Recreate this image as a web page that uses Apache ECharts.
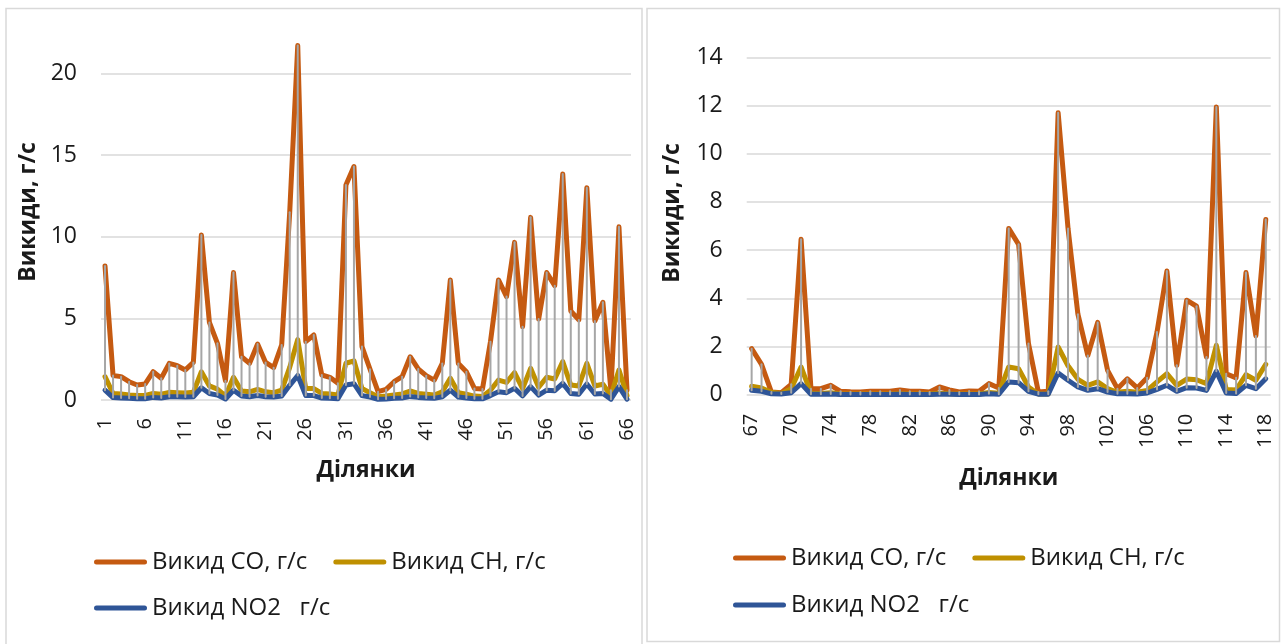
<!DOCTYPE html>
<html>
<head>
<meta charset="utf-8">
<title>Викиди по ділянках</title>
<script src="https://cdn.jsdelivr.net/npm/echarts@6/dist/echarts.min.js"></script>
<style>
  html, body { margin: 0; padding: 0; background: #ffffff; }
  #chart { width: 1281px; height: 644px; }
</style>
</head>
<body>
<div id="chart"></div>
<script>
// Ділянки 1–66 (ліва діаграма)
const sectionsA = ['1','2','3','4','5','6','7','8','9','10','11','12','13','14','15','16','17','18','19','20',
  '21','22','23','24','25','26','27','28','29','30','31','32','33','34','35','36','37','38','39','40',
  '41','42','43','44','45','46','47','48','49','50','51','52','53','54','55','56','57','58','59','60',
  '61','62','63','64','65','66'];

// Ділянки 67–118 (права діаграма)
const sectionsB = ['67','68','69','69а','70','71','72','73','74','75','76','77','78','79','80','81','82','83',
  '84','85','86','87','88','89','90','91','92','93','94','95','96','97','98','99','100','101','102','103',
  '104','105','106','107','108','109','110','111','112','113','114','115','116','117','118'];

// Викид CO, CH, NO2 (г/с), ділянки 1–66
const coA = [8.2, 1.5, 1.43, 1.12, 0.92, 0.98, 1.73, 1.33, 2.24, 2.1, 1.84, 2.3, 10.1, 4.75, 3.47, 1.18,
  7.8, 2.65, 2.24, 3.43, 2.3, 1.98, 3.37, 11.5, 21.7, 3.57, 3.98, 1.53, 1.39, 1.02, 13.16, 14.29, 3.27,
  1.88, 0.51, 0.65, 1.12, 1.43, 2.65, 1.9, 1.49, 1.22, 2.24, 7.35, 2.24, 1.73, 0.71, 0.67, 3.57, 7.35,
  6.33, 9.65, 4.49, 11.18, 4.96, 7.8, 7.0, 13.84, 5.45, 4.9, 13.0, 4.84, 5.98, 0.6, 10.6, 0.6];
const chA = [1.43, 0.4, 0.37, 0.3, 0.27, 0.28, 0.4, 0.35, 0.47, 0.45, 0.43, 0.47, 1.73, 0.86, 0.67, 0.25,
  1.39, 0.55, 0.5, 0.65, 0.5, 0.45, 0.6, 2.0, 3.7, 0.7, 0.7, 0.4, 0.37, 0.3, 2.25, 2.4, 0.7,
  0.45, 0.2, 0.24, 0.3, 0.37, 0.55, 0.4, 0.35, 0.3, 0.5, 1.33, 0.45, 0.35, 0.24, 0.22, 0.6, 1.22,
  1.08, 1.67, 0.7, 1.94, 0.78, 1.39, 1.29, 2.35, 0.92, 0.86, 2.24, 0.86, 0.96, 0.27, 1.84, 0.27];
const no2A = [0.6, 0.15, 0.12, 0.1, 0.07, 0.08, 0.16, 0.12, 0.2, 0.2, 0.18, 0.2, 0.75, 0.4, 0.3, 0.06,
  0.6, 0.24, 0.2, 0.28, 0.2, 0.18, 0.25, 0.9, 1.5, 0.27, 0.27, 0.12, 0.1, 0.08, 0.92, 1.0, 0.27,
  0.18, 0.04, 0.06, 0.1, 0.12, 0.22, 0.16, 0.12, 0.1, 0.2, 0.6, 0.18, 0.12, 0.08, 0.07, 0.27, 0.5,
  0.45, 0.71, 0.25, 0.82, 0.3, 0.6, 0.57, 1.02, 0.4, 0.35, 0.98, 0.37, 0.4, 0.05, 0.82, 0.05];

// Викид CO, CH, NO2 (г/с), ділянки 67–118
const coB = [1.91, 1.26, 0.11, 0.08, 0.43, 6.45, 0.25, 0.25, 0.39, 0.14, 0.12, 0.11, 0.14, 0.14, 0.14,
  0.2, 0.14, 0.14, 0.11, 0.32, 0.2, 0.11, 0.15, 0.14, 0.46, 0.28, 6.9, 6.24, 2.12, 0.11, 0.14, 11.7,
  6.9, 3.34, 1.63, 3.0, 1.01, 0.25, 0.66, 0.28, 0.7, 2.6, 5.13, 1.22, 3.92, 3.67, 1.56, 11.94, 0.87,
  0.7, 5.07, 2.44, 7.27];
const chB = [0.35, 0.28, 0.1, 0.05, 0.25, 1.15, 0.05, 0.05, 0.08, 0.03, 0.03, 0.03, 0.03, 0.03, 0.03,
  0.04, 0.03, 0.03, 0.03, 0.06, 0.04, 0.03, 0.03, 0.03, 0.09, 0.06, 1.15, 1.08, 0.32, 0.03, 0.03, 1.98,
  1.2, 0.64, 0.39, 0.53, 0.25, 0.1, 0.14, 0.1, 0.18, 0.53, 0.87, 0.39, 0.65, 0.62, 0.46, 2.05, 0.22,
  0.2, 0.83, 0.6, 1.26];
const no2B = [0.18, 0.14, 0.04, 0.03, 0.08, 0.46, 0.02, 0.02, 0.03, 0.01, 0.01, 0.01, 0.01, 0.01, 0.01,
  0.02, 0.01, 0.01, 0.01, 0.02, 0.02, 0.01, 0.01, 0.01, 0.04, 0.02, 0.53, 0.5, 0.14, 0.02, 0.02, 0.9,
  0.6, 0.32, 0.18, 0.25, 0.11, 0.04, 0.04, 0.03, 0.07, 0.22, 0.39, 0.14, 0.29, 0.28, 0.18, 0.97, 0.07,
  0.05, 0.39, 0.25, 0.66];

// Поділки осі значень
const yTicksA = [0, 5, 10, 15, 20];
const yTicksB = [0, 2, 4, 6, 8, 10, 12, 14];

const NAME_CO = 'Викид CO, г/с';
const NAME_CH = 'Викид CH, г/с';
const NAME_NO2 = 'Викид NO2   г/с';

const COLOR_CO = '#C55A11';
const COLOR_CH = '#BF9000';
const COLOR_NO2 = '#2F5597';
const FONT = 'Open Sans';
const TEXT = '#1a1a1a';
const GRID_LINE = '#d9d9d9';

function lineSeries(name, data, color, axis) {
  return {
    type: 'line', name: name, data: data,
    xAxisIndex: axis, yAxisIndex: axis,
    symbol: 'none', clip: false, z: 2,
    lineStyle: { color: color, width: 5, cap: 'round', join: 'round' },
    itemStyle: { color: color },
    emphasis: { disabled: true }
  };
}

// Лінії від найбільшого до найменшого значення на кожній ділянці
function highLowSeries(co, ch, no2, axis) {
  const data = co.map((v, i) => [i, Math.max(v, ch[i], no2[i]), Math.min(v, ch[i], no2[i])]);
  return {
    type: 'custom', xAxisIndex: axis, yAxisIndex: axis,
    z: 3, silent: true, clip: false,
    encode: { x: 0, y: [1, 2] },
    data: data,
    renderItem: function (params, api) {
      const top = api.coord([api.value(0), api.value(1)]);
      const bottom = api.coord([api.value(0), api.value(2)]);
      return {
        type: 'line',
        shape: { x1: top[0], y1: top[1], x2: bottom[0], y2: bottom[1] },
        style: { stroke: '#a6a6a6', lineWidth: 2, lineCap: 'round' }
      };
    }
  };
}

const legendIcon = 'path://M2.5,0H50.5A2.5,2.5,0,0,1,50.5,5H2.5A2.5,2.5,0,0,1,2.5,0Z';
function legendBlock(names, left, top) {
  return {
    data: names, left: left, top: top, padding: 0,
    orient: 'horizontal', itemWidth: 53, itemHeight: 5, itemGap: 26,
    icon: legendIcon, selectedMode: false,
    textStyle: { fontFamily: FONT, fontSize: 24, color: TEXT, padding: [0, 0, 0, 0] }
  };
}

function categoryAxis(grid, data, every, margin) {
  return {
    type: 'category', gridIndex: grid, data: data, boundaryGap: true,
    axisLine: { show: false }, axisTick: { show: false },
    axisLabel: {
      interval: every, rotate: 90, margin: margin,
      fontFamily: FONT, fontSize: 20, color: TEXT
    }
  };
}

function valueAxis(grid, ticks) {
  return {
    type: 'value', gridIndex: grid,
    min: ticks[0], max: ticks[ticks.length - 1], interval: ticks[1] - ticks[0],
    axisLine: { show: false }, axisTick: { show: false },
    axisLabel: { margin: 24, fontFamily: FONT, fontSize: 23, color: TEXT },
    splitLine: { lineStyle: { color: GRID_LINE, width: 1.5 } }
  };
}

function titleText(text, x, y, vertical) {
  return {
    type: 'text', x: x, y: y, rotation: vertical ? Math.PI / 2 : 0, silent: true,
    style: {
      text: text, fontFamily: FONT, fontSize: 23, fontWeight: 'bold', fill: TEXT,
      align: 'center', verticalAlign: 'middle'
    }
  };
}

const chart = echarts.init(document.getElementById('chart'), null, { renderer: 'canvas' });

chart.setOption({
  backgroundColor: '#ffffff',
  animation: false,
  grid: [
    { left: 101, right: 650, top: 73.3, bottom: 244 },
    { left: 746.7, right: 10.3, top: 57.3, bottom: 249.3 }
  ],
  xAxis: [
    categoryAxis(0, sectionsA, 4, 18),
    categoryAxis(1, sectionsB, 3, 19)
  ],
  yAxis: [
    valueAxis(0, yTicksA),
    valueAxis(1, yTicksB)
  ],
  legend: [
    legendBlock([NAME_CO, NAME_CH], 94, 550),
    legendBlock([NAME_NO2], 94, 596),
    legendBlock([NAME_CO, NAME_CH], 733, 546),
    legendBlock([NAME_NO2], 733, 593)
  ],
  graphic: [
    {
      type: 'rect', silent: true, z: -1,
      shape: { x: 6, y: 8.5, width: 636, height: 640 },
      style: { fill: null, stroke: GRID_LINE, lineWidth: 1.5 }
    },
    {
      type: 'rect', silent: true, z: -1,
      shape: { x: 647, y: 8.5, width: 632.5, height: 633 },
      style: { fill: null, stroke: GRID_LINE, lineWidth: 1.5 }
    },
    titleText('Викиди, г/с', 28, 212, true),
    titleText('Викиди, г/с', 672.5, 213, true),
    titleText('Ділянки', 366, 470, false),
    titleText('Ділянки', 1008.7, 478, false)
  ],
  series: [
    lineSeries(NAME_CO, coA, COLOR_CO, 0),
    lineSeries(NAME_CH, chA, COLOR_CH, 0),
    lineSeries(NAME_NO2, no2A, COLOR_NO2, 0),
    highLowSeries(coA, chA, no2A, 0),
    lineSeries(NAME_CO, coB, COLOR_CO, 1),
    lineSeries(NAME_CH, chB, COLOR_CH, 1),
    lineSeries(NAME_NO2, no2B, COLOR_NO2, 1),
    highLowSeries(coB, chB, no2B, 1)
  ]
});
</script>
</body>
</html>
